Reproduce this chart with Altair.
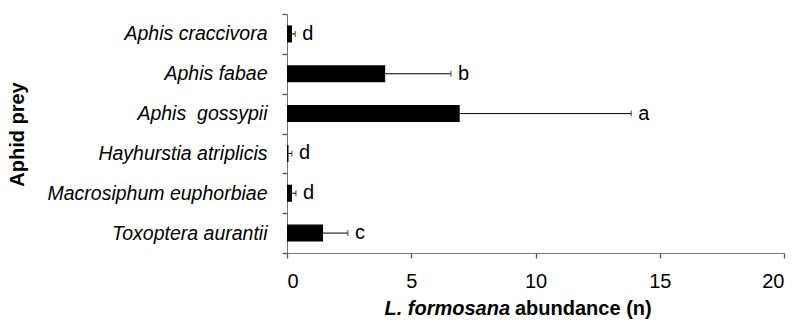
import altair as alt
import pandas as pd

species = ["Aphis craccivora", "Aphis fabae", "Aphis\u00a0 gossypii",
           "Hayhurstia atriplicis", "Macrosiphum euphorbiae", "Toxoptera aurantii"]
means = [0.2, 3.95, 6.95, 0.06, 0.2, 1.45]
err_ends = [0.33, 6.6, 13.85, 0.2, 0.36, 2.45]
letters = ["d", "b", "a", "d", "d", "c"]
x_ticks = [0, 5, 10, 15, 20]

df = pd.DataFrame({"species": species, "mean": means, "err": err_ends, "letter": letters})

FONT = "Liberation Sans"
x_scale = alt.Scale(domain=[0, 20], nice=False, zero=True)
y_scale = alt.Scale(domain=species, paddingInner=0, paddingOuter=0)

y_axis = alt.Axis(title="Aphid prey", titleFontSize=20, titleFontWeight="bold",
                  titleFont=FONT, titleColor="black", titleAngle=-90,
                  titleX=-270, titleY=120, titleAlign="center", titleBaseline="middle",
                  labelFont=FONT, labelFontSize=19.5, labelFontStyle="italic",
                  labelColor="black", labelPadding=15, labelLimit=400,
                  ticks=True, tickSize=5, tickWidth=1.3, tickBand="extent",
                  tickColor="#555", domainColor="#777", grid=False)
x_axis = alt.Axis(values=x_ticks, title=None, labelFont=FONT, labelFontSize=20,
                  labelColor="black", labelPadding=13, ticks=True, tickSize=5, tickWidth=1.3,
                  tickColor="#555", domainColor="#777", grid=False)

bars = alt.Chart(df).mark_bar(color="black", size=17).encode(
    x=alt.X("mean:Q", scale=x_scale, axis=x_axis),
    y=alt.Y("species:N", scale=y_scale, sort=None, axis=y_axis),
)
rules = alt.Chart(df).mark_rule(color="black", strokeWidth=1).encode(
    x=alt.X("mean:Q"), x2="err:Q", y=alt.Y("species:N", sort=None))
caps = alt.Chart(df).mark_tick(color="black", size=6, thickness=1).encode(
    x=alt.X("err:Q"), y=alt.Y("species:N", sort=None))
labels = alt.Chart(df).mark_text(align="left", baseline="middle", dx=7, fontSize=20,
                                 font=FONT, color="black").encode(
    x=alt.X("err:Q"), y=alt.Y("species:N", sort=None), text="letter:N")

t1 = alt.Chart(pd.DataFrame({"t": ["L. formosana"]})).mark_text(
    align="right", baseline="middle", fontSize=20, font=FONT, fontWeight="bold",
    fontStyle="italic", color="black").encode(
    text="t:N", x=alt.value(223), y=alt.value(295))
t2 = alt.Chart(pd.DataFrame({"t": ["abundance (n)"]})).mark_text(
    align="left", baseline="middle", fontSize=20, font=FONT, fontWeight="bold",
    color="black").encode(
    text="t:N", x=alt.value(228), y=alt.value(295))

chart = alt.layer(bars, rules, caps, labels, t1, t2).properties(
    width=497, height=239, background="white",
    autosize=alt.AutoSizeParams(type="none"),
    padding={"left": 287, "top": 14, "right": 14, "bottom": 74},
).configure_view(stroke=None)

chart.save("out.html", embed_options={"renderer": "svg", "actions": False})
